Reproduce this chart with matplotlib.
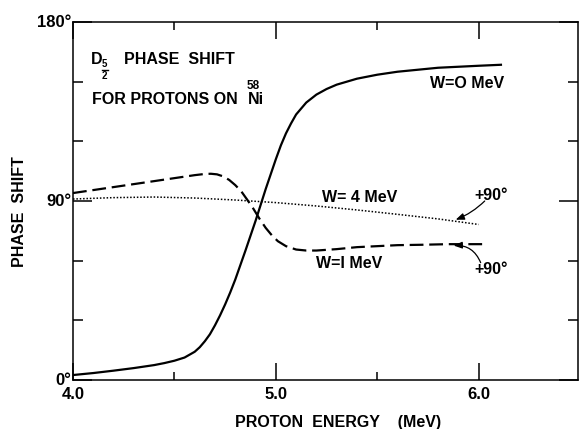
import matplotlib.pyplot as plt
from matplotlib.lines import Line2D
from matplotlib.ticker import FixedLocator, NullFormatter

plt.rcParams['font.family'] = ['Liberation Sans', 'DejaVu Sans']
plt.rcParams['font.weight'] = 'bold'

# W = 0 MeV (solid)
energy_w0 = [4.0, 4.1, 4.2, 4.3, 4.4, 4.45, 4.5, 4.55, 4.6, 4.625, 4.65,
             4.675, 4.7, 4.725, 4.75, 4.775, 4.8, 4.85, 4.9, 4.95, 5.0, 5.025,
             5.05, 5.075, 5.1, 5.15, 5.2, 5.25, 5.3, 5.4, 5.5, 5.6, 5.7, 5.8,
             5.9, 6.0, 6.11]
shift_w0 = [2.5, 3.5, 4.7, 6.0, 7.5, 8.5, 9.7, 11.3, 14.2, 16.5, 19.5, 23.0,
            27.5, 32.5, 38.0, 44.0, 50.5, 65.0, 80.0, 96.0, 111.0, 118.0,
            124.0, 129.0, 133.5, 139.5, 143.5, 146.3, 148.5, 151.5, 153.5,
            155.0, 156.0, 157.0, 157.5, 158.0, 158.5]

# W = 1 MeV (dashed)
energy_w1 = [4.0, 4.1, 4.2, 4.3, 4.4, 4.5, 4.6, 4.65, 4.68, 4.71, 4.74, 4.77,
             4.8, 4.83, 4.86, 4.89, 4.92, 4.95, 4.98, 5.01, 5.05, 5.1, 5.15,
             5.2, 5.3, 5.4, 5.5, 5.6, 5.72, 5.85, 6.02]
shift_w1 = [94.0, 95.5, 97.0, 98.5, 100.0, 101.5, 103.0, 103.6, 103.7, 103.4,
            102.4, 100.6, 98.0, 94.8, 90.5, 86.0, 81.0, 76.5, 72.8, 69.8, 67.3,
            65.6, 65.1, 65.1, 65.8, 66.8, 67.3, 67.8, 68.0, 68.3, 68.3]

# W = 4 MeV (dotted)
energy_w4 = [4.0, 4.2, 4.4, 4.6, 4.8, 5.0, 5.2, 5.4, 5.6, 5.8, 6.0]
shift_w4 = [91.0, 91.7, 92.0, 91.5, 90.5, 89.2, 87.5, 85.5, 83.3, 81.0, 78.2]

x_major = [4.0, 5.0, 6.0]
x_minor = [4.5, 5.5]
x_labels = ['4.0', '5.0', '6.0']
y_major = [0, 90, 180]
y_minor = [30, 60, 120, 150]
y_labels = ['0°', '90°', '180°']

fig = plt.figure(figsize=(5.79, 4.29), dpi=100)
ax = fig.add_axes([0.1261, 0.1142, 0.8722, 0.8345])

ax.plot(energy_w0, shift_w0, color='black', lw=1.6, solid_joinstyle='round')
ax.plot(energy_w1, shift_w1, color='black', lw=1.6, linestyle=(0, (6.2, 2.6)))
ax.plot(energy_w4, shift_w4, color='black', lw=1.1, linestyle=(0, (1, 1.2)))

ax.set_xlim(4.0, 6.49)
ax.set_ylim(0, 180)

ax.xaxis.set_major_locator(FixedLocator(x_major))
ax.xaxis.set_minor_locator(FixedLocator(x_minor))
ax.set_xticklabels(x_labels)
ax.yaxis.set_major_locator(FixedLocator(y_major))
ax.yaxis.set_minor_locator(FixedLocator(y_minor))
ax.set_yticklabels(y_labels)
ax.xaxis.set_minor_formatter(NullFormatter())
ax.yaxis.set_minor_formatter(NullFormatter())

ax.tick_params(axis='x', which='major', direction='in', length=12, width=1.1,
               top=True, labelsize=12, pad=5)
ax.tick_params(axis='x', which='minor', direction='in', length=6, width=1.1,
               top=True)
ax.tick_params(axis='y', which='major', direction='in', length=14, width=1.1,
               right=True, labelsize=12, pad=1)
ax.tick_params(axis='y', which='minor', direction='in', length=7, width=1.1,
               right=True)
for lbl in ax.get_yticklabels():
    lbl.set_verticalalignment('center')

for sp in ax.spines.values():
    sp.set_linewidth(1.1)

fs = 11.5
# title block: D with a stacked 5/2 subscript
ax.text(4.088, 161.4, 'D', fontsize=fs, ha='left', va='center')
ax.text(4.156, 158.7, '5', fontsize=7, ha='center', va='center')
ax.add_line(Line2D([4.141, 4.171], [155.9, 155.9], color='black', lw=1.0))
ax.text(4.156, 152.8, '2', fontsize=7, ha='center', va='center')
ax.text(4.25, 161.4, 'PHASE  SHIFT', fontsize=fs, ha='left', va='center')
ax.text(4.094, 141.0, 'FOR PROTONS ON', fontsize=fs, ha='left', va='center')
ax.text(4.857, 147.8, '58', fontsize=8.5, ha='left', va='center')
ax.text(4.862, 141.0, 'Ni', fontsize=fs, ha='left', va='center')

# curve labels
ax.text(5.76, 149.3, 'W=O MeV', fontsize=fs, ha='left', va='center')
ax.text(5.227, 92.0, 'W= 4 MeV', fontsize=fs, ha='left', va='center')
ax.text(5.20, 58.8, 'W=I MeV', fontsize=fs, ha='left', va='center')
ax.text(5.98, 93.0, '+90°', fontsize=fs, ha='left', va='center')
ax.text(5.98, 55.8, '+90°', fontsize=fs, ha='left', va='center')

arrow = dict(arrowstyle='-|>,head_length=0.5,head_width=0.2', color='black',
             lw=0.9, shrinkA=0, shrinkB=0)
ax.annotate('', xy=(5.887, 80.6), xytext=(6.03, 90.0),
            arrowprops=dict(arrow, connectionstyle='arc3,rad=-0.1'))
ax.annotate('', xy=(5.877, 67.6), xytext=(6.01, 59.0),
            arrowprops=dict(arrow, connectionstyle='arc3,rad=0.35'))

fig.text(20 / 579, 1 - 212 / 429, 'PHASE  SHIFT', fontsize=fs, rotation=90,
         ha='center', va='center')
fig.text(338 / 579, 1 - 422 / 429, 'PROTON  ENERGY    (MeV)', fontsize=fs,
         ha='center', va='center')

fig.savefig('out.png', dpi=100)
